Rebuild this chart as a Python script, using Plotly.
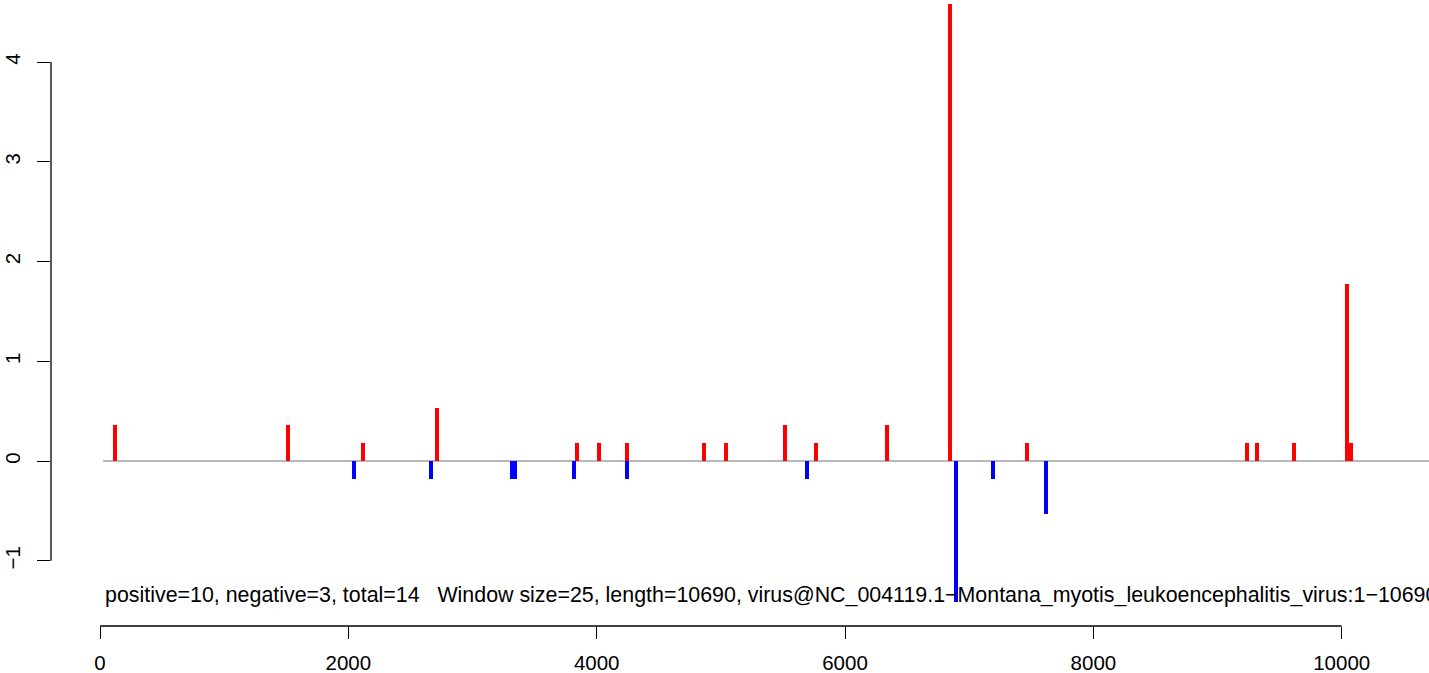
import plotly.graph_objects as go

# data
pos_x = [121, 1514, 2118, 2714, 3841, 4019, 4244, 4864, 5041, 5517, 5766, 6338,
         6845, 7466, 9237, 9318, 9616, 10043, 10071]
pos_y = [0.36, 0.36, 0.18, 0.53, 0.18, 0.18, 0.18, 0.18, 0.18, 0.36, 0.18, 0.36,
         4.58, 0.18, 0.18, 0.18, 0.18, 1.77, 0.18]
neg_x = [2046, 2666, 3314, 3342, 3817, 4244, 5694, 6894, 7192, 7619]
neg_y = [-0.18, -0.18, -0.18, -0.18, -0.18, -0.18, -0.18, -1.41, -0.18, -0.53]
x_ticks = [0, 2000, 4000, 6000, 8000, 10000]
y_ticks = [-1, 0, 1, 2, 3, 4]
caption = ("positive=10, negative=3, total=14   Window size=25, length=10690, "
           "virus@NC_004119.1\u2212Montana_myotis_leukoencephalitis_virus:1\u221210690")

FONT = "Liberation Sans, Arial, sans-serif"
fig = go.Figure()
fig.add_trace(go.Bar(x=neg_x, y=neg_y, width=32, marker=dict(color="#0000FF", line=dict(width=0)),
                     showlegend=False))
fig.add_trace(go.Bar(x=pos_x, y=pos_y, width=32, marker=dict(color="#FF0000", line=dict(width=0)),
                     showlegend=False))

shapes = [
    # zero line
    dict(type="line", xref="x", yref="y", x0=25, x1=10720, y0=0, y1=0,
         line=dict(color="#A0A0A0", width=1.5), layer="below"),
    # x axis line (R style, spans ticks only)
    dict(type="line", xref="x", yref="paper", x0=0, x1=10000, y0=0, y1=0,
         line=dict(color="black", width=1.3)),
    # y axis line
    dict(type="line", xref="paper", yref="y", x0=0, x1=0, y0=-1, y1=4,
         line=dict(color="black", width=1.3)),
]

fig.update_layout(
    width=1429, height=673,
    margin=dict(l=51, r=0, t=0, b=47),
    plot_bgcolor="white", paper_bgcolor="white",
    barmode="overlay", bargap=0,
    font=dict(family=FONT, size=20, color="black"),
    shapes=shapes,
    xaxis=dict(range=[-394.6, 10703], tickmode="array", tickvals=x_ticks,
               ticktext=[str(v) for v in x_ticks],
               ticks="outside", ticklen=12, tickwidth=1.3, tickcolor="black",
               showline=False, showgrid=False, zeroline=False,
               ticklabelstandoff=6, tickfont=dict(size=20.5, family=FONT)),
    yaxis=dict(range=[-1.654, 4.622], tickmode="array", tickvals=y_ticks,
               ticktext=[str(v).replace("-", "\u2212") for v in y_ticks],
               ticks="outside", ticklen=13, tickwidth=1.3, tickcolor="black",
               tickangle=-90,
               showline=False, showgrid=False, zeroline=False,
               ticklabelstandoff=9, tickfont=dict(size=20.5, family=FONT)),
    annotations=[dict(text=caption, xref="x", yref="y", x=25, y=-1.345,
                      xanchor="left", yanchor="middle", showarrow=False,
                      font=dict(size=21.4, family=FONT, color="black"))],
)

fig.write_html("out.html", config={"displayModeBar": False},
               post_script="document.body.style.margin='0';")
